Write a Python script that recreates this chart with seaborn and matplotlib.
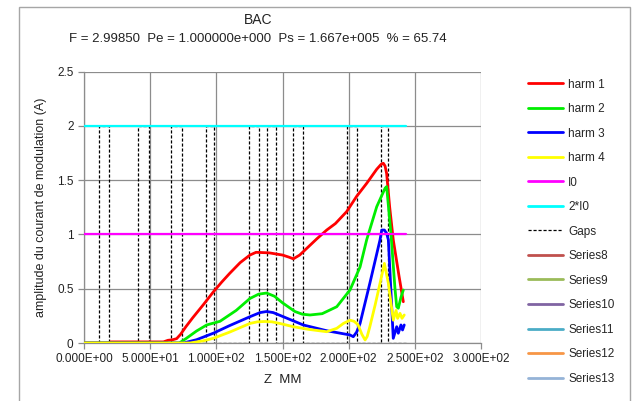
import matplotlib
matplotlib.use("Agg")
import matplotlib.pyplot as plt
import seaborn as sns
import numpy as np
import pandas as pd
from matplotlib.lines import Line2D
from matplotlib.patches import Rectangle
from matplotlib.ticker import FuncFormatter

# ---------------- data ----------------
title_line1 = "BAC"
title_line2 = "F = 2.99850  Pe = 1.000000e+000  Ps = 1.667e+005  % = 65.74"
x_label = "Z  MM"
y_label = "amplitude du courant de modulation (A)"

harm1_x = [0, 19.6, 20, 60, 63.5, 67, 70, 73, 77, 82, 90, 97.7, 104, 110, 118, 125.4, 130, 140, 150, 155, 158.2,
           163, 168.2, 176, 183.4, 190, 198.5, 206, 213.6, 221.2, 224.5, 226.2, 227.5, 228.7, 231, 233.7, 238, 241.3]
harm1_y = [0, 0.0, 0.01, 0.01, 0.025, 0.03, 0.04, 0.08, 0.15, 0.23, 0.35, 0.47, 0.56, 0.64, 0.74, 0.81, 0.835, 0.83,
           0.81, 0.79, 0.775, 0.81, 0.87, 0.96, 1.04, 1.10, 1.21, 1.35, 1.47, 1.60, 1.645, 1.655, 1.63, 1.56, 1.25,
           0.95, 0.62, 0.38]

harm2_x = [0, 72, 77, 85, 92.7, 102.8, 115, 125.4, 132, 138, 144, 150, 159.4, 165, 170.8, 180, 191, 201,
           208.6, 213.6, 221.2, 227.5, 228.7, 232, 235, 236.3, 237.5, 239.5, 241.3]
harm2_y = [0, 0, 0.04, 0.11, 0.166, 0.2, 0.3, 0.41, 0.45, 0.46, 0.43, 0.37, 0.29, 0.265, 0.258, 0.27, 0.334, 0.488,
           0.70, 0.95, 1.255, 1.425, 1.44, 1.0, 0.5, 0.334, 0.32, 0.42, 0.488]

harm3_x = [0, 75, 85, 97.7, 110, 125.4, 133, 138, 143, 150, 165.7, 183.4, 201, 203.5, 206, 208.6, 216,
           223.7, 225, 227, 228.7, 230, 233.7, 236.3, 237.5, 239.5, 240.7, 242]
harm3_y = [0, 0, 0.03, 0.09, 0.16, 0.242, 0.28, 0.29, 0.28, 0.245, 0.166, 0.113, 0.074, 0.058, 0.1, 0.18, 0.55,
           0.95, 1.04, 1.04, 1.01, 0.95, 0.043, 0.15, 0.09, 0.166, 0.12, 0.166]

harm4_x = [0, 80, 90, 97.7, 110, 125.4, 131, 136.8, 142, 148, 158.2, 170, 183.4, 191, 196, 201, 204, 207,
           210, 212.4, 214, 216, 220, 223.7, 227, 230, 233.7, 235.8, 237, 238.8, 240.3, 242]
harm4_y = [0, 0, 0.02, 0.043, 0.1, 0.18, 0.195, 0.198, 0.195, 0.18, 0.15, 0.125, 0.104, 0.135, 0.18, 0.21, 0.2, 0.17,
           0.08, 0.028, 0.06, 0.15, 0.35, 0.55, 0.733, 0.55, 0.21, 0.30, 0.227, 0.273, 0.227, 0.258]

level_x = [0, 243]
i0_y = [1, 1]
two_i0_y = [2, 2]

gap_starts = [11.3, 40.6, 65.5, 92.0, 124.7, 138.3, 158.2, 198.5, 224.2]
gap_ends = [19.1, 49.1, 74.3, 98.0, 132.2, 145.1, 165.5, 206.5, 230.0]
gap_low, gap_high = 0, 2
gap_x_end = 243

x_ticks = [0, 50, 100, 150, 200, 250, 300]
y_ticks = [0, 0.5, 1, 1.5, 2, 2.5]

legend_labels = ["harm 1", "harm 2", "harm 3", "harm 4", "I0", "2*I0", "Gaps",
                 "Series8", "Series9", "Series10", "Series11", "Series12", "Series13"]

# ---------------- styling ----------------
sns.set_theme(style="white")
plt.rcParams['font.family'] = ['Liberation Sans', 'DejaVu Sans']

W, H = 635, 401
fig = plt.figure(figsize=(W / 100, H / 100), dpi=100)
ax = fig.add_axes([84 / W, 1 - 343 / H, (481 - 84) / W, (343 - 71.5) / H])

# chart area border
fig.patches.append(Rectangle((19 / W, -0.05), (630 - 19) / W, 1 - 7 / H + 0.05,
                             transform=fig.transFigure, fill=False,
                             edgecolor="#a6a6a6", linewidth=1.0, zorder=0))

# gaps series
gx = [0]
gy = [gap_low]
for a, b in zip(gap_starts, gap_ends):
    gx += [a, a, b, b]
    gy += [gap_low, gap_high, gap_high, gap_low]
gx.append(gap_x_end)
gy.append(gap_low)

sns.lineplot(x=gx, y=gy, ax=ax, color="black", linewidth=0.9, linestyle=(0, (2.5, 1.5)),
             sort=False, estimator=None, zorder=2)
series = [
    (harm1_x, harm1_y, "#ff0000", 2.0),
    (harm2_x, harm2_y, "#00ee00", 2.0),
    (harm3_x, harm3_y, "#0000ff", 2.0),
    (harm4_x, harm4_y, "#ffff00", 2.0),
    (level_x, i0_y, "#ff00ff", 1.6),
    (level_x, two_i0_y, "#00ffff", 1.6),
]
for xs, ys, c, lw in series:
    sns.lineplot(x=xs, y=ys, ax=ax, color=c, linewidth=lw, sort=False, estimator=None, zorder=3)

ax.set_xlim(0, 300)
ax.set_ylim(0, 2.5)
ax.set_xticks(x_ticks)
ax.set_yticks(y_ticks)
ax.xaxis.set_major_formatter(FuncFormatter(lambda v, p: f"{v:.3E}"))
ax.yaxis.set_major_formatter(FuncFormatter(lambda v, p: f"{v:g}"))
ax.grid(True, color="#8c8c8c", linewidth=0.9)
ax.set_axisbelow(True)
for s in ["top", "right"]:
    ax.spines[s].set_visible(False)
for s in ["left", "bottom"]:
    ax.spines[s].set_color("#8c8c8c")
    ax.spines[s].set_linewidth(0.9)
ax.tick_params(axis="both", which="both", length=4, color="#8c8c8c", width=0.9,
               labelsize=8.5, labelcolor="#222222", direction="out", bottom=True, left=True)
ax.set_xlabel(x_label, fontsize=9.5, color="#222222", labelpad=6)
ax.set_ylabel(y_label, fontsize=9, color="#222222", labelpad=7)

fig.text(258 / W, 1 - 20 / H, title_line1, ha="center", va="center", fontsize=10, color="#222222")
fig.text(258 / W, 1 - 39 / H, title_line2, ha="center", va="center", fontsize=9.5, color="#222222")

legend_colors = ["#ff0000", "#00ee00", "#0000ff", "#ffff00", "#ff00ff", "#00ffff", "black",
                 "#c0504d", "#9bbb59", "#8064a2", "#4bacc6", "#f79646", "#95b3d7"]
handles = []
for lab, c in zip(legend_labels, legend_colors):
    if lab == "Gaps":
        handles.append(Line2D([], [], color=c, linewidth=0.9, linestyle=(0, (2.5, 1.5))))
    else:
        handles.append(Line2D([], [], color=c, linewidth=2.0))
fig.legend(handles, legend_labels, loc="upper left", bbox_to_anchor=(528 / W, 1 - 78.5 / H),
           frameon=False, fontsize=8.5, handlelength=3.0, handletextpad=0.4, labelspacing=1.06,
           borderaxespad=0, borderpad=0)

fig.savefig("out.png", dpi=100)
